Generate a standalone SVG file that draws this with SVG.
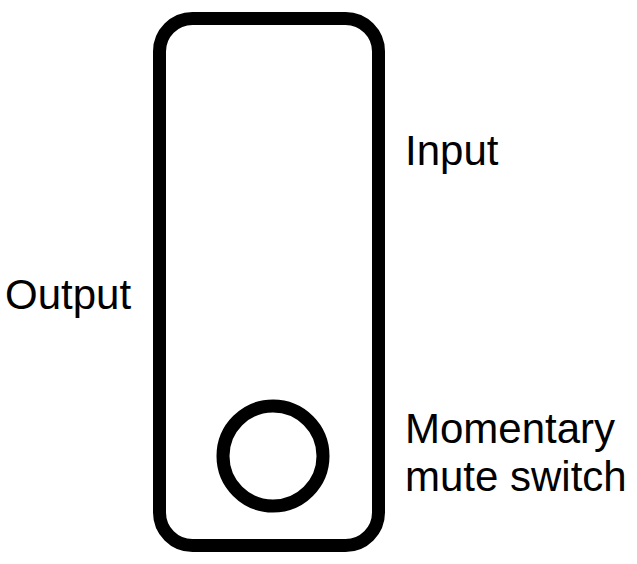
<svg xmlns="http://www.w3.org/2000/svg" width="637" height="564" viewBox="0 0 637 564">
<style>
.s{fill:none;stroke:#000;stroke-width:13}
text{font-family:"Liberation Sans",Arial,sans-serif;font-size:42px;fill:#000}
</style>
<rect width="637" height="564" fill="#fff"/>
<g id="device"><rect class="s" x="159.5" y="18.5" width="219" height="527" rx="33"/></g>
<g id="switch"><circle class="s" cx="273" cy="456" r="50"/></g>
<g id="connectors"/>
<g id="labels">
<text x="405" y="165">Input</text>
<text x="5" y="309">Output</text>
<text x="405" y="443">Momentary</text>
<text x="405" y="491">mute switch</text>
</g>
</svg>
